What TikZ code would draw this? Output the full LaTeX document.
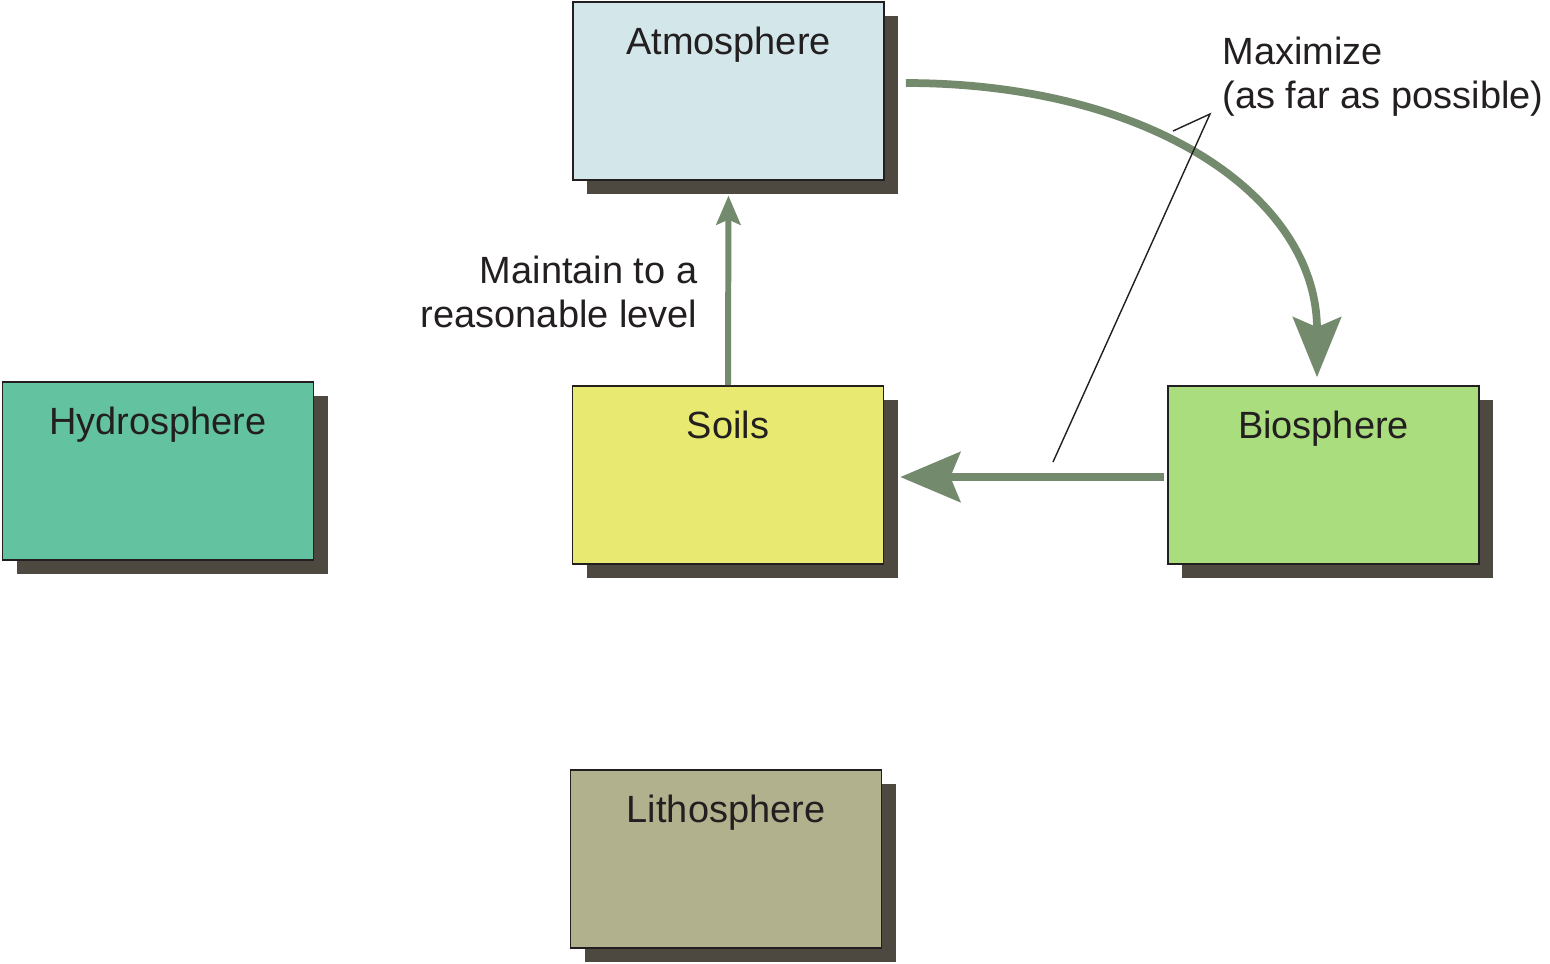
\documentclass[tikz,border=0pt]{standalone}
\usepackage{fontspec}
\setmainfont{Liberation Sans}
\usetikzlibrary{arrows.meta,shadows}
\definecolor{inkC}{HTML}{231F20}
\definecolor{shadowC}{HTML}{4D4940}
\definecolor{flowC}{HTML}{738A6C}
\definecolor{atmoC}{HTML}{D3E7EA}
\definecolor{hydroC}{HTML}{63C3A1}
\definecolor{soilC}{HTML}{E8E970}
\definecolor{bioC}{HTML}{AADD7E}
\definecolor{lithoC}{HTML}{B1B18D}
\tikzset{
  sphere/.style={draw=inkC,line width=0.45pt,text=inkC,inner sep=0pt,
    text width=3.11cm,align=center,text height=0.52cm,text depth=1.26cm,
    drop shadow={fill=shadowC,opacity=1,shadow xshift=0.14cm,shadow yshift=-0.14cm}},
  flow/.style={draw=flowC,line width=2.2pt},
  note/.style={text=inkC,inner sep=0pt}
}

\begin{document}
\begin{tikzpicture}[font=\fontsize{10.8}{12.5}\selectfont]
\useasboundingbox (0,0) rectangle (15.5,-9.63);
%
\node[sphere,fill=atmoC](atm) at (7.285,-0.91){Atmosphere};
\node[sphere,fill=hydroC](hyd) at (1.58,-4.71){Hydrosphere};
\node[sphere,fill=soilC](soil) at (7.28,-4.75){Soils};
\node[sphere,fill=bioC](bio) at (13.235,-4.75){Biosphere};
\node[sphere,fill=lithoC](lith) at (7.26,-8.59){Lithosphere};
%
\draw[flow,line width=1.7pt,-{Stealth[length=0.29cm,width=0.24cm,inset=0.05cm]},shorten >=4.2pt](soil.north)--(atm.south);
\draw[flow,-{Stealth[length=0.6cm,width=0.5cm,inset=0.1cm]},shorten <=0.03cm,shorten >=0.16cm]([yshift=-0.02cm]bio.west)--([yshift=-0.02cm]soil.east);
\draw[flow,-{Stealth[length=0.6cm,width=0.48cm,inset=0.1cm]}]([shift={(0.21,0.08)}]atm.east)
  .. controls +(2.45,0) and +(0,1.8) .. ([shift={(-0.065,0.08)}]bio.north);
%
\node[note,anchor=east,align=right](keep) at (6.98,-2.92){Maintain to a\\reasonable level};
\node[note,anchor=north west,align=left](maxi) at (12.22,-0.36){Maximize\\(as far as possible)};
\coordinate(callA) at (10.53,-4.62);
\coordinate(callB) at (12.10,-1.14);
\coordinate(callC) at (11.73,-1.31);
\draw[inkC,line width=0.4pt](callA)--(callB)--(callC);
\end{tikzpicture}
\end{document}
